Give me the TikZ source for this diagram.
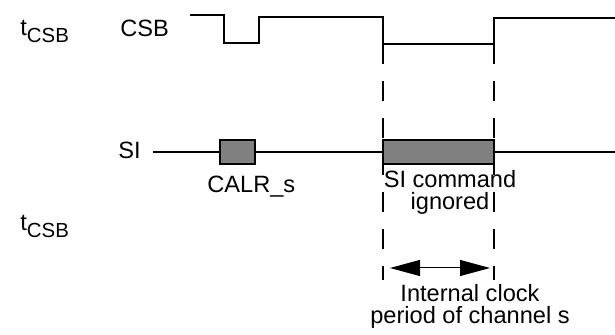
\documentclass[tikz,border=0pt]{standalone}
\usepackage{fontspec}
\setmainfont{Liberation Sans}
\usetikzlibrary{arrows.meta}
\tikzset{
  wave/.style={black, line width=1.1pt},
  guide/.style={black, line width=1.1pt, dash pattern=on 10pt off 8.5pt},
  packet/.style={draw=black, fill=gray, line width=1.1pt, inner sep=0pt, minimum height=12pt},
  lbl/.style={font=\fontsize{11.8}{11}\selectfont, inner sep=0pt}
}
\newcommand{\tcsb}{t\raisebox{-3.2pt}{\fontsize{10.2}{10}\selectfont CSB}}

\begin{document}
\begin{tikzpicture}[x=0.5pt, y=-0.5pt]
  \useasboundingbox (0,0) rectangle (615,335);
  \node[lbl, anchor=base west] (tcsbA) at (20,36) {\tcsb};
  \node[lbl, anchor=base west] (csb) at (120,37) {CSB};
  \node[lbl, anchor=base west] (si) at (118,159) {SI};
  \node[lbl, anchor=base west] (tcsbB) at (20,231) {\tcsb};
  \draw[wave] (190,15) -- (224,15) -- (224,43) -- (259,43) -- (259,17) -- (383,17)
    -- (383,44) -- (494,44) -- (494,18) -- (615,18);
  \coordinate (gAtop) at (383,44);
  \coordinate (gAbot) at (383,280);
  \coordinate (gBtop) at (494,44);
  \coordinate (gBbot) at (494,280);
  \draw[guide] (gAtop) -- (gAbot);
  \draw[guide] (gBtop) -- (gBbot);
  \node[packet, minimum width=17.5pt] (calr) at (237.5,152) {};
  \node[packet, minimum width=55.5pt] (cmd) at (438.5,152) {};
  \coordinate (siend) at (615,152);
  \draw[wave] (153,152) -- (calr.west);
  \draw[wave] (calr.east) -- (cmd.west);
  \draw[wave] (cmd.east) -- (siend);
  \node[lbl, anchor=base west] (calrtxt) at (207,193) {CALR\_s};
  \node[lbl, anchor=base, align=center] (cmdtxt) at (450,210) {SI command\\ignored};
  \coordinate (arL) at (390,268);
  \coordinate (arR) at (490,268);
  \draw[line width=0.5pt, {Triangle[length=15pt,width=8pt]}-{Triangle[length=15pt,width=8pt]}] (arL) -- (arR);
  \node[lbl, anchor=base, align=center] (clktxt) at (470,324) {Internal clock\\period of channel s};
\end{tikzpicture}
\end{document}
